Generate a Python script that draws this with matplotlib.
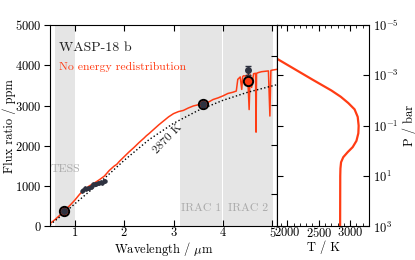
import matplotlib
matplotlib.use("Agg")
import matplotlib.pyplot as plt
import numpy as np

plt.rcParams["font.family"] = "serif"
plt.rcParams["font.serif"] = ["cmr10"]
plt.rcParams["mathtext.fontset"] = "cm"
plt.rcParams["axes.formatter.use_mathtext"] = True
plt.rcParams["font.size"] = 9

RED = "#ff3c14"
DARK = "#2e3240"

# model spectrum, no energy redistribution (wavelength um, ppm)
wl_model = [0.50, 0.60, 0.70, 0.80, 0.90, 1.00, 1.10, 1.20, 1.30, 1.40,
            1.50, 1.60, 1.70, 1.80, 1.85, 1.90, 2.00, 2.10, 2.20, 2.30,
            2.40, 2.45, 2.50, 2.60, 2.70, 2.80, 2.90, 3.00, 3.10, 3.20,
            3.30, 3.40, 3.50, 3.60, 3.70, 3.80, 3.90, 4.00, 4.10, 4.20,
            4.27, 4.30, 4.35, 4.38, 4.40, 4.42, 4.46, 4.50, 4.53, 4.55,
            4.58, 4.62, 4.66, 4.67, 4.68, 4.72, 4.78, 4.85, 4.92, 4.95,
            4.97, 5.00, 5.10]
fx_model = [70, 170, 280, 400, 520, 650, 800, 920, 1010, 1080,
            1160, 1250, 1390, 1500, 1540, 1610, 1730, 1850, 1960, 2080,
            2190, 2250, 2300, 2410, 2520, 2620, 2720, 2800, 2850, 2880,
            2940, 2990, 3020, 3060, 3080, 3150, 3190, 3240, 3300, 3330,
            3360, 3650, 3710, 3400, 3720, 3740, 3730, 3760, 2900, 3770,
            3450, 3790, 3800, 2340, 3800, 3820, 3840, 3850, 3860, 2740,
            3870, 3880, 3900]

# 2870 K blackbody
wl_bb = [0.5, 0.7, 1.0, 1.5, 2.0, 2.5, 3.0, 3.5, 4.0, 4.5, 5.1]
fx_bb = [40, 240, 560, 1080, 1640, 2150, 2560, 2880, 3130, 3330, 3520]

# HST WFC3 eclipse depths
wl_hst = [1.14, 1.17, 1.20, 1.23, 1.26, 1.29, 1.32, 1.35, 1.38, 1.41,
          1.44, 1.47, 1.50, 1.53, 1.56, 1.59, 1.62]
fx_hst = [870, 900, 950, 920, 960, 960, 990, 1000, 1050, 1060,
          1050, 1080, 1090, 1110, 1090, 1120, 1130]
err_hst = 50

# photometry: TESS, IRAC 1, IRAC 2
wl_phot = [0.79, 3.6, 4.5]
fx_phot = [390, 3030, 3880]
err_phot = [40, 60, 110]
fx_band_model = [390, 3030, 3600]

# temperature-pressure profile
T_prof = [1800, 2100, 2400, 2700, 2850, 2970, 3070, 3120, 3135, 3130,
          3100, 3040, 2960, 2890, 2855, 2845, 2842, 2840]
logP_prof = [-3.71, -3.27, -2.83, -2.40, -2.15, -1.9, -1.65, -1.35, -1.0, -0.7,
             -0.4, -0.15, 0.05, 0.25, 0.45, 0.7, 1.0, 3.0]

fig = plt.figure(figsize=(4.15, 2.6), dpi=100)
ax = fig.add_axes([0.1205, 0.129, 0.5477, 0.775])
ax2 = fig.add_axes([0.6682, 0.129, 0.2210, 0.775])

shade = "#e5e5e5"
ax.axvspan(0.6, 1.0, color=shade, lw=0, zorder=0)
ax.axvspan(3.13, 3.98, color=shade, lw=0, zorder=0)
ax.axvspan(4.01, 5.02, color=shade, lw=0, zorder=0)

ax.plot(wl_model, fx_model, color=RED, lw=1.1, zorder=2)
ax.plot(wl_bb, fx_bb, color="k", ls=":", lw=1.0, zorder=3)
ax.errorbar(wl_hst, fx_hst, yerr=err_hst, fmt="o", ms=2.2, color=DARK,
            elinewidth=0.8, capsize=0, zorder=4)
ax.scatter(wl_phot, fx_band_model, s=45, color=RED, edgecolor="k", lw=1.4, zorder=5)
ax.errorbar(wl_phot, fx_phot, yerr=err_phot, fmt="o", ms=4, color=DARK,
            elinewidth=1.0, capsize=2, zorder=6)

ax.text(0.04, 0.885, "WASP-18 b", transform=ax.transAxes, color="#222222",
        va="center", fontsize=10)
ax.text(0.04, 0.79, "No energy redistribution", transform=ax.transAxes,
        color=RED, va="center", fontsize=8.5)
ax.text(0.51, 1420, "TESS", color="#aaaaaa", va="center", fontsize=8.5)
ax.text(3.56, 450, "IRAC 1", color="#aaaaaa", ha="center", va="center", fontsize=8.5)
ax.text(4.51, 450, "IRAC 2", color="#aaaaaa", ha="center", va="center", fontsize=8.5)
ax.text(2.88, 2180, "2870 K", color="#222222", rotation=46, ha="center",
        va="center", fontsize=8.5)

ax.set_xlim(0.5, 5.1)
ax.set_ylim(0, 5000)
ax.set_xticks([1, 2, 3, 4, 5])
ax.set_yticks([0, 1000, 2000, 3000, 4000, 5000])
ax.tick_params(axis="x", direction="in", top=True, length=4, pad=0)
ax.tick_params(axis="y", direction="out", length=4, pad=2)
sec = ax.secondary_yaxis("right")
sec.set_yticks([810, 2020, 3010, 4240])
sec.tick_params(direction="in", length=4, labelright=False)
ax.set_xlabel(r"Wavelength / $\mu$m", fontsize=9)
ax.xaxis.set_label_coords(0.5, -0.068)
ax.set_ylabel("Flux ratio / ppm", fontsize=9)
ax.yaxis.set_label_coords(-0.15, 0.5)

ax2.plot(T_prof, 10 ** np.array(logP_prof), color=RED, lw=1.6)
ax2.set_yscale("log")
ax2.set_ylim(1e3, 1e-5)
ax2.set_xlim(1840, 3300)
ax2.set_yticks([1e-5, 1e-3, 1e-1, 1e1, 1e3])
ax2.yaxis.set_minor_locator(matplotlib.ticker.NullLocator())
ax2.set_xticks([2000, 2500, 3000])
ax2.xaxis.set_minor_locator(matplotlib.ticker.MultipleLocator(100))
ax2.yaxis.tick_right()
ax2.yaxis.set_label_position("right")
ax2.tick_params(which="both", direction="in", top=True, bottom=True,
                left=True, right=True)
ax2.tick_params(axis="x", which="major", length=4, pad=0)
ax2.tick_params(axis="y", which="major", length=4, pad=3)
ax2.tick_params(which="minor", length=2.5)
ax2.set_xlabel("T / K", fontsize=9)
ax2.xaxis.set_label_coords(0.5, -0.068)
ax2.set_ylabel("P / bar", fontsize=9)
ax2.yaxis.set_label_coords(1.37, 0.5)

fig.savefig("out.png", dpi=100)
